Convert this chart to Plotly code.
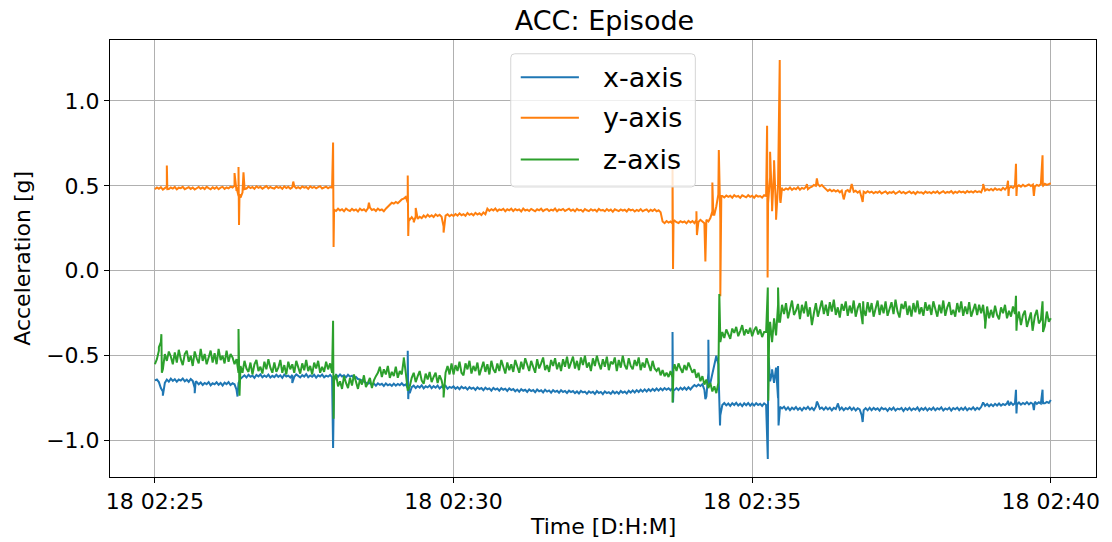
import pandas as pd
import plotly.graph_objects as go

# ---------------- data ----------------
start_time = "2021-03-18 02:25:00"
grid_step_s = 2  # base samples every 2 s from 02:25:00 to 02:40:00 (one row = one minute)

x_axis_vals = [
    -0.645, -0.64, -0.655, -0.69, -0.71, -0.66, -0.64, -0.652, -0.635, -0.648, -0.638, -0.653, -0.64, -0.646, -0.634, -0.65, -0.641, -0.654, -0.637, -0.648, -0.69, -0.655, -0.668, -0.657, -0.672, -0.66, -0.667, -0.655, -0.674, -0.662,
    -0.668, -0.656, -0.671, -0.66, -0.675, -0.658, -0.667, -0.655, -0.672, -0.662, -0.668, -0.70, -0.66, -0.635, -0.625, -0.615, -0.628, -0.612, -0.624, -0.617, -0.63, -0.613, -0.622, -0.61, -0.627, -0.616, -0.625, -0.611, -0.628, -0.618,
    -0.626, -0.612, -0.624, -0.615, -0.63, -0.611, -0.622, -0.617, -0.628, -0.613, -0.625, -0.61, -0.621, -0.627, -0.614, -0.623, -0.609, -0.626, -0.616, -0.624, -0.612, -0.629, -0.615, -0.622, -0.611, -0.627, -0.617, -0.623, -0.613, -0.626,
    -0.63, -0.612, -0.624, -0.61, -0.622, -0.615, -0.627, -0.612, -0.623, -0.618, -0.63, -0.625, -0.637, -0.64, -0.648, -0.652, -0.658, -0.664, -0.66, -0.672, -0.664, -0.676, -0.662, -0.671, -0.665, -0.678, -0.663, -0.674, -0.668, -0.677,
    -0.664, -0.676, -0.666, -0.673, -0.662, -0.675, -0.668, -0.69, -0.72, -0.685, -0.676, -0.69, -0.678, -0.687, -0.674, -0.692, -0.68, -0.686, -0.675, -0.691, -0.679, -0.688, -0.676, -0.693, -0.681, -0.687, -0.677, -0.694, -0.683, -0.689,
    -0.68, -0.694, -0.684, -0.697, -0.682, -0.692, -0.686, -0.699, -0.685, -0.694, -0.688, -0.701, -0.686, -0.696, -0.69, -0.703, -0.688, -0.697, -0.692, -0.705, -0.689, -0.699, -0.693, -0.706, -0.691, -0.7, -0.694, -0.707, -0.692, -0.702,
    -0.696, -0.709, -0.699, -0.712, -0.697, -0.706, -0.7, -0.713, -0.698, -0.708, -0.702, -0.715, -0.699, -0.709, -0.703, -0.716, -0.7, -0.711, -0.704, -0.717, -0.702, -0.712, -0.706, -0.718, -0.703, -0.713, -0.707, -0.719, -0.705, -0.714,
    -0.708, -0.72, -0.71, -0.722, -0.707, -0.716, -0.711, -0.724, -0.709, -0.718, -0.712, -0.725, -0.708, -0.719, -0.713, -0.726, -0.71, -0.72, -0.714, -0.724, -0.709, -0.721, -0.712, -0.723, -0.707, -0.718, -0.711, -0.722, -0.706, -0.717,
    -0.704, -0.716, -0.702, -0.713, -0.7, -0.711, -0.698, -0.71, -0.697, -0.708, -0.695, -0.706, -0.693, -0.705, -0.692, -0.703, -0.69, -0.70, -0.691, -0.703, -0.689, -0.701, -0.69, -0.702, -0.688, -0.699, -0.687, -0.70, -0.686, -0.698,
    -0.684, -0.672, -0.681, -0.669, -0.678, -0.668, -0.70, -0.74, -0.60, -0.66, -0.60, -0.56, -0.50, -0.55, -0.85, -0.79, -0.778, -0.792, -0.781, -0.795, -0.779, -0.79, -0.777, -0.793, -0.782, -0.796, -0.78, -0.791, -0.778, -0.794,
    -0.781, -0.793, -0.779, -0.79, -0.783, -0.795, -0.78, -0.79, -0.70, -0.65, -0.60, -0.66, -0.57, -0.75, -0.80, -0.81, -0.80, -0.817, -0.804, -0.82, -0.806, -0.815, -0.802, -0.818, -0.807, -0.821, -0.805, -0.814, -0.801, -0.817,
    -0.806, -0.82, -0.80, -0.78, -0.812, -0.805, -0.818, -0.803, -0.816, -0.806, -0.821, -0.807, -0.814, -0.785, -0.817, -0.805, -0.82, -0.808, -0.815, -0.803, -0.819, -0.806, -0.822, -0.809, -0.816, -0.85, -0.82, -0.808, -0.821, -0.806,
    -0.82, -0.807, -0.817, -0.809, -0.823, -0.806, -0.815, -0.81, -0.824, -0.808, -0.818, -0.805, -0.822, -0.811, -0.816, -0.807, -0.825, -0.809, -0.819, -0.806, -0.821, -0.81, -0.817, -0.804, -0.823, -0.808, -0.818, -0.806, -0.822, -0.809,
    -0.818, -0.805, -0.821, -0.809, -0.816, -0.804, -0.822, -0.81, -0.817, -0.806, -0.823, -0.808, -0.815, -0.805, -0.82, -0.807, -0.818, -0.804, -0.821, -0.809, -0.816, -0.803, -0.819, -0.806, -0.815, -0.802, -0.78, -0.795, -0.784, -0.797,
    -0.786, -0.796, -0.783, -0.793, -0.781, -0.794, -0.784, -0.79, -0.78, -0.792, -0.776, -0.789, -0.779, -0.787, -0.775, -0.788, -0.778, -0.785, -0.773, -0.786, -0.776, -0.784, -0.771, -0.783, -0.774, -0.781, -0.769, -0.78, -0.772, -0.778,
    -0.76,
]
x_spike_t = [8, 40, 41, 83, 138, 179, 179.5, 254, 254.5, 255, 520, 520.5, 521, 553, 556, 556.5, 567.7,
             615.7, 616.5, 620, 626, 626.5, 665, 686, 711, 832, 857, 865, 865.5, 883, 891.7, 892.2]
x_spike_v = [-0.735, -0.72, -0.65, -0.74, -0.66, -1.043, -0.63, -0.47, -0.755, -0.69, -0.36, -0.775, -0.70, -0.755, -0.406, -0.68, -0.91,
             -1.108, -0.51, -0.58, -0.56, -0.91, -0.77, -0.78, -0.89, -0.775, -0.765, -0.70, -0.84, -0.82, -0.70, -0.78]

y_axis_vals = [
    0.48, 0.49, 0.483, 0.492, 0.478, 0.488, 0.495, 0.481, 0.49, 0.484, 0.493, 0.479, 0.489, 0.486, 0.494, 0.48, 0.487, 0.492, 0.482, 0.49, 0.478, 0.488, 0.493, 0.483, 0.49, 0.481, 0.494, 0.486, 0.48, 0.491,
    0.483, 0.492, 0.48, 0.489, 0.494, 0.482, 0.49, 0.485, 0.495, 0.49, 0.50, 0.47, 0.44, 0.43, 0.46, 0.49, 0.484, 0.496, 0.487, 0.493, 0.482, 0.497, 0.488, 0.494, 0.483, 0.492, 0.498, 0.485, 0.493, 0.487,
    0.484, 0.496, 0.488, 0.493, 0.482, 0.497, 0.487, 0.494, 0.483, 0.491, 0.498, 0.486, 0.492, 0.484, 0.496, 0.489, 0.493, 0.482, 0.497, 0.488, 0.494, 0.485, 0.492, 0.498, 0.484, 0.49, 0.495, 0.486, 0.493, 0.489,
    0.36, 0.352, 0.365, 0.355, 0.362, 0.35, 0.366, 0.357, 0.352, 0.364, 0.355, 0.361, 0.349, 0.365, 0.356, 0.362, 0.351, 0.367, 0.372, 0.358, 0.363, 0.352, 0.366, 0.356, 0.361, 0.35, 0.365, 0.375, 0.39, 0.40,
    0.395, 0.405, 0.398, 0.412, 0.42, 0.425, 0.435, 0.40, 0.30, 0.315, 0.30, 0.32, 0.305, 0.318, 0.31, 0.325, 0.315, 0.33, 0.318, 0.327, 0.316, 0.332, 0.322, 0.33, 0.318, 0.26, 0.325, 0.333, 0.321, 0.33,
    0.322, 0.334, 0.325, 0.338, 0.327, 0.333, 0.324, 0.34, 0.329, 0.336, 0.326, 0.341, 0.331, 0.338, 0.328, 0.343, 0.333, 0.365, 0.352, 0.362, 0.355, 0.366, 0.351, 0.361, 0.357, 0.364, 0.35, 0.362, 0.356, 0.365,
    0.351, 0.363, 0.356, 0.361, 0.349, 0.366, 0.355, 0.36, 0.352, 0.364, 0.357, 0.35, 0.362, 0.356, 0.365, 0.351, 0.359, 0.363, 0.352, 0.36, 0.355, 0.366, 0.35, 0.361, 0.357, 0.364, 0.352, 0.359, 0.365, 0.353,
    0.36, 0.35, 0.364, 0.355, 0.359, 0.348, 0.363, 0.356, 0.351, 0.362, 0.354, 0.36, 0.349, 0.364, 0.355, 0.358, 0.35, 0.363, 0.353, 0.36, 0.347, 0.362, 0.356, 0.351, 0.361, 0.354, 0.359, 0.349, 0.363, 0.355,
    0.36, 0.349, 0.358, 0.352, 0.363, 0.35, 0.357, 0.361, 0.348, 0.359, 0.352, 0.362, 0.35, 0.356, 0.345, 0.29, 0.28, 0.293, 0.284, 0.29, 0.278, 0.295, 0.286, 0.281, 0.292, 0.285, 0.29, 0.279, 0.294, 0.284,
    0.292, 0.28, 0.30, 0.287, 0.30, 0.29, 0.28, 0.30, 0.29, 0.31, 0.35, 0.33, 0.38, 0.45, 0.30, 0.44, 0.432, 0.443, 0.435, 0.441, 0.43, 0.445, 0.436, 0.44, 0.429, 0.444, 0.437, 0.432, 0.445, 0.435,
    0.441, 0.43, 0.444, 0.436, 0.44, 0.431, 0.445, 0.44, 0.42, 0.55, 0.38, 0.60, 0.35, 0.50, 0.42, 0.49, 0.475, 0.485, 0.478, 0.49, 0.476, 0.486, 0.48, 0.492, 0.477, 0.488, 0.482, 0.494, 0.48, 0.49,
    0.495, 0.505, 0.50, 0.51, 0.498, 0.505, 0.492, 0.48, 0.47, 0.478, 0.468, 0.475, 0.466, 0.474, 0.462, 0.472, 0.43, 0.468, 0.475, 0.462, 0.50, 0.465, 0.471, 0.46, 0.469, 0.43, 0.465, 0.458, 0.468, 0.46,
    0.466, 0.456, 0.464, 0.459, 0.468, 0.455, 0.462, 0.467, 0.454, 0.463, 0.458, 0.466, 0.453, 0.462, 0.468, 0.457, 0.464, 0.455, 0.461, 0.467, 0.456, 0.463, 0.452, 0.465, 0.459, 0.462, 0.454, 0.466, 0.458, 0.463,
    0.456, 0.465, 0.459, 0.467, 0.455, 0.463, 0.468, 0.457, 0.464, 0.46, 0.469, 0.456, 0.465, 0.459, 0.468, 0.461, 0.466, 0.458, 0.469, 0.462, 0.467, 0.46, 0.47, 0.463, 0.468, 0.462, 0.49, 0.472, 0.48, 0.474,
    0.482, 0.473, 0.485, 0.476, 0.481, 0.474, 0.488, 0.478, 0.492, 0.485, 0.496, 0.488, 0.50, 0.494, 0.503, 0.495, 0.506, 0.497, 0.502, 0.508, 0.499, 0.507, 0.496, 0.505, 0.50, 0.51, 0.502, 0.512, 0.505, 0.51,
    0.515,
]
y_spike_t = [12, 12.5, 80, 82, 84, 84.5, 85, 89, 90, 139, 179, 179.5, 180, 215, 254, 254.5, 255, 260, 262, 290,
             520, 520.5, 521, 544, 544.5, 553, 560, 561, 566.5, 568, 569, 615, 615.5, 616, 618, 620, 622, 624,
             627.7, 628.5, 630, 655, 665, 692, 700, 711, 832, 857, 857.5, 865, 865.5, 883, 891.7, 892.2]
y_spike_v = [0.62, 0.48, 0.575, 0.49, 0.61, 0.27, 0.45, 0.58, 0.48, 0.525, 0.755, 0.14, 0.36, 0.40, 0.56, 0.205, 0.31, 0.285, 0.37, 0.225,
             0.61, 0.01, 0.29, 0.35, 0.21, 0.055, 0.52, 0.33, 0.71, -0.15, 0.44, 0.853, -0.04, 0.40, 0.70, 0.35, 0.65, 0.30,
             1.24, 0.40, 0.48, 0.51, 0.543, 0.42, 0.51, 0.405, 0.51, 0.53, 0.44, 0.63, 0.44, 0.44, 0.68, 0.50]

z_axis_vals = [
    -0.55, -0.52, -0.47, -0.42, -0.58, -0.49, -0.53, -0.475, -0.505, -0.55, -0.48, -0.54, -0.465, -0.52, -0.555, -0.49, -0.47, -0.535, -0.5, -0.56, -0.475, -0.515, -0.545, -0.46, -0.53, -0.49, -0.55, -0.51, -0.47, -0.54,
    -0.485, -0.55, -0.46, -0.525, -0.5, -0.545, -0.47, -0.535, -0.49, -0.51, -0.55, -0.52, -0.60, -0.56, -0.60, -0.53, -0.575, -0.595, -0.54, -0.61, -0.55, -0.525, -0.59, -0.565, -0.605, -0.535, -0.58, -0.52, -0.57, -0.6,
    -0.54, -0.595, -0.57, -0.525, -0.6, -0.555, -0.61, -0.535, -0.58, -0.55, -0.6, -0.53, -0.565, -0.605, -0.545, -0.585, -0.525, -0.59, -0.56, -0.61, -0.54, -0.575, -0.53, -0.6, -0.565, -0.595, -0.535, -0.58, -0.545, -0.6,
    -0.64, -0.61, -0.68, -0.65, -0.695, -0.62, -0.66, -0.69, -0.63, -0.675, -0.61, -0.655, -0.695, -0.64, -0.67, -0.615, -0.685, -0.66, -0.63, -0.69, -0.645, -0.62, -0.60, -0.565, -0.625, -0.58, -0.61, -0.56, -0.63, -0.595,
    -0.62, -0.565, -0.63, -0.59, -0.61, -0.52, -0.60, -0.70, -0.68, -0.63, -0.6, -0.655, -0.62, -0.59, -0.645, -0.665, -0.605, -0.64, -0.595, -0.655, -0.625, -0.6, -0.66, -0.615, -0.645, -0.70, -0.60, -0.56, -0.61, -0.545,
    -0.61, -0.555, -0.59, -0.535, -0.6, -0.615, -0.545, -0.58, -0.53, -0.605, -0.56, -0.59, -0.54, -0.615, -0.57, -0.535, -0.595, -0.55, -0.61, -0.53, -0.58, -0.6, -0.545, -0.59, -0.525, -0.57, -0.605, -0.54, -0.585, -0.55,
    -0.595, -0.525, -0.565, -0.6, -0.535, -0.58, -0.515, -0.555, -0.59, -0.53, -0.57, -0.6, -0.52, -0.575, -0.545, -0.51, -0.585, -0.555, -0.595, -0.525, -0.56, -0.515, -0.58, -0.54, -0.59, -0.52, -0.565, -0.505, -0.575, -0.545,
    -0.505, -0.575, -0.53, -0.585, -0.51, -0.555, -0.5, -0.57, -0.54, -0.59, -0.515, -0.56, -0.5, -0.545, -0.58, -0.52, -0.565, -0.505, -0.585, -0.535, -0.55, -0.51, -0.59, -0.525, -0.57, -0.5, -0.555, -0.58, -0.515, -0.56,
    -0.58, -0.525, -0.56, -0.51, -0.585, -0.54, -0.57, -0.515, -0.555, -0.59, -0.53, -0.575, -0.59, -0.57, -0.615, -0.585, -0.62, -0.6, -0.625, -0.59, -0.63, -0.55, -0.59, -0.545, -0.575, -0.6, -0.555, -0.585, -0.54, -0.57,
    -0.60, -0.58, -0.63, -0.60, -0.65, -0.62, -0.67, -0.64, -0.69, -0.66, -0.71, -0.68, -0.72, -0.66, -0.40, -0.36, -0.395, -0.345, -0.375, -0.40, -0.34, -0.365, -0.33, -0.385, -0.355, -0.32, -0.38, -0.345, -0.37, -0.335,
    -0.385, -0.35, -0.33, -0.375, -0.345, -0.39, -0.36, -0.36, -0.40, -0.30, -0.42, -0.28, -0.38, -0.20, -0.30, -0.20, -0.255, -0.19, -0.28, -0.22, -0.175, -0.26, -0.235, -0.195, -0.285, -0.2, -0.25, -0.18, -0.27, -0.215,
    -0.32, -0.25, -0.19, -0.27, -0.23, -0.175, -0.255, -0.2, -0.265, -0.185, -0.24, -0.17, -0.26, -0.215, -0.275, -0.195, -0.235, -0.18, -0.265, -0.205, -0.25, -0.175, -0.27, -0.22, -0.19, -0.26, -0.23, -0.265, -0.185, -0.245,
    -0.19, -0.27, -0.215, -0.175, -0.26, -0.2, -0.25, -0.18, -0.265, -0.23, -0.185, -0.255, -0.17, -0.24, -0.275, -0.195, -0.225, -0.18, -0.26, -0.205, -0.27, -0.19, -0.245, -0.175, -0.255, -0.215, -0.265, -0.185, -0.235, -0.2,
    -0.26, -0.18, -0.235, -0.27, -0.2, -0.25, -0.175, -0.265, -0.215, -0.185, -0.26, -0.23, -0.27, -0.19, -0.245, -0.18, -0.265, -0.21, -0.255, -0.185, -0.27, -0.225, -0.195, -0.26, -0.2, -0.25, -0.20, -0.30, -0.21, -0.28,
    -0.23, -0.275, -0.205, -0.26, -0.285, -0.215, -0.25, -0.2, -0.28, -0.235, -0.27, -0.21, -0.255, -0.30, -0.24, -0.32, -0.26, -0.235, -0.33, -0.28, -0.245, -0.34, -0.265, -0.23, -0.31, -0.29, -0.25, -0.325, -0.24, -0.3,
    -0.28,
]
z_spike_t = [4, 6.5, 7, 84, 85, 86, 179, 179.5, 180.5, 250, 254, 290, 520, 521, 567, 568,
             615.7, 616.2, 617, 626, 627, 711, 711.5, 834, 865, 865.5, 881.7, 891.7, 892.2]
z_spike_v = [-0.45, -0.373, -0.60, -0.343, -0.735, -0.56, -0.294, -0.87, -0.64, -0.51, -0.705, -0.745, -0.775, -0.58, -0.137, -0.42,
             -0.098, -0.765, -0.40, -0.098, -0.30, -0.314, -0.18, -0.34, -0.147, -0.353, -0.353, -0.18, -0.36]

series_names = ["x-axis", "y-axis", "z-axis"]
series_colors = ["#1f77b4", "#ff7f0e", "#2ca02c"]
y_ticks = [-1.0, -0.5, 0.0, 0.5, 1.0]


def build_series(base_vals, spike_t, spike_v):
    t = [i * grid_step_s for i in range(len(base_vals))] + list(spike_t)
    v = list(base_vals) + list(spike_v)
    df = pd.DataFrame({"t": t, "v": v}).sort_values("t", kind="stable")
    times = pd.Timestamp(start_time) + pd.to_timedelta(df["t"], unit="s")
    return times, df["v"].tolist()


series = [
    build_series(x_axis_vals, x_spike_t, x_spike_v),
    build_series(y_axis_vals, y_spike_t, y_spike_v),
    build_series(z_axis_vals, z_spike_t, z_spike_v),
]

fig = go.Figure()
for (tt, vv), name, color in zip(series, series_names, series_colors):
    fig.add_trace(go.Scatter(x=tt, y=vv, mode="lines", name=name,
                             line=dict(color=color, width=2), showlegend=False))

FONT = "DejaVu Sans"
t0 = pd.Timestamp(start_time)
x_range = [t0 - pd.Timedelta(seconds=45.1), t0 + pd.Timedelta(seconds=945.4)]

fig.update_layout(
    width=1112, height=542, autosize=False,
    margin=dict(l=110, r=14, t=39.5, b=64.7),
    paper_bgcolor="white", plot_bgcolor="white",
    font=dict(family=FONT, size=22, color="black"),
    title=dict(text="ACC: Episode", x=0.5436, xanchor="center", y=0.962, yanchor="middle",
               font=dict(family=FONT, size=27, color="black")),
    xaxis=dict(type="date", range=x_range, tickformat="%d %H:%M",
               tick0=start_time, dtick=300000,
               showgrid=True, gridcolor="#b0b0b0", gridwidth=1,
               showline=True, mirror=True, linecolor="black", linewidth=1,
               ticks="outside", ticklen=5, tickwidth=1, tickcolor="black",
               zeroline=False, tickfont=dict(size=22)),
    yaxis=dict(range=[-1.2135, 1.358], tickvals=y_ticks, tickformat=".1f",
               showgrid=True, gridcolor="#b0b0b0", gridwidth=1,
               showline=True, mirror=True, linecolor="black", linewidth=1,
               ticks="outside", ticklen=5, tickwidth=1, tickcolor="black",
               zeroline=False, tickfont=dict(size=22)),
)

# axis titles
fig.add_annotation(text="Time [D:H:M]", xref="paper", yref="paper", x=0.5, y=-0.1135,
                   xanchor="center", yanchor="middle", showarrow=False,
                   font=dict(family=FONT, size=22, color="black"))
fig.add_annotation(text="Acceleration [g]", xref="paper", yref="paper", x=-0.089, y=0.5,
                   xanchor="center", yanchor="middle", textangle=-90, showarrow=False,
                   font=dict(family=FONT, size=22, color="black"))

# legend (drawn like matplotlib's upper-center legend)
PX0, PW, PY0, PH = 110.0, 988.3, 477.3, 437.8


def px(x):
    return (x - PX0) / PW


def py(y):
    return (PY0 - y) / PH


lx0, lx1, ly0, ly1 = 511.7, 696.7, 53.3, 186.7
r = 4.0
path = (f"M {px(lx0 + r)},{py(ly0)} L {px(lx1 - r)},{py(ly0)} Q {px(lx1)},{py(ly0)} {px(lx1)},{py(ly0 + r)} "
        f"L {px(lx1)},{py(ly1 - r)} Q {px(lx1)},{py(ly1)} {px(lx1 - r)},{py(ly1)} "
        f"L {px(lx0 + r)},{py(ly1)} Q {px(lx0)},{py(ly1)} {px(lx0)},{py(ly1 - r)} "
        f"L {px(lx0)},{py(ly0 + r)} Q {px(lx0)},{py(ly0)} {px(lx0 + r)},{py(ly0)} Z")
fig.add_shape(type="path", path=path, xref="paper", yref="paper",
              fillcolor="rgba(255,255,255,0.8)", line=dict(color="#d5d5d5", width=1), layer="above")
row_y = [76.7, 117.3, 159.3]
for name, color, ry in zip(series_names, series_colors, row_y):
    fig.add_shape(type="line", xref="paper", yref="paper", x0=px(521.7), x1=px(580.0),
                  y0=py(ry), y1=py(ry), line=dict(color=color, width=2), layer="above")
    fig.add_annotation(text=name, xref="paper", yref="paper", x=px(602.0), y=py(ry),
                       xanchor="left", yanchor="middle", showarrow=False,
                       font=dict(family=FONT, size=27, color="black"))

fig.write_html("out.html")
